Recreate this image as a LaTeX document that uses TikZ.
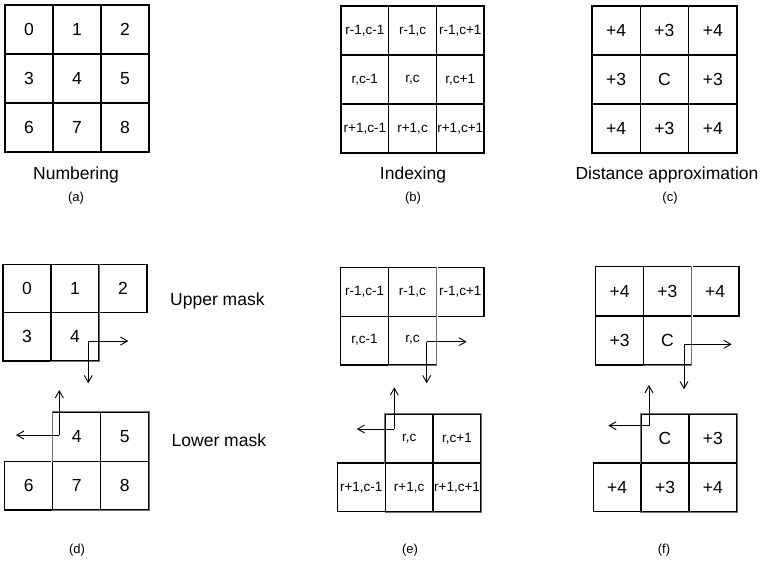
\documentclass[tikz,border=0pt]{standalone}
\usepackage{fontspec}
\setmainfont{Liberation Sans}
\usetikzlibrary{arrows.meta}
\begin{document}
\begin{tikzpicture}[x=1pt,y=-1pt,
  cell/.style={draw=black,line width=1.3pt,rectangle,inner sep=0pt,font=\fontsize{17.5}{17.5}\selectfont},
  small/.style={font=\fontsize{13.5}{13.5}\selectfont},
  lbl/.style={inner sep=0pt,font=\fontsize{17.5}{18}\selectfont},
  sub/.style={inner sep=0pt,font=\fontsize{13}{13}\selectfont},
  gr/.style={draw=black!55,line width=1pt,preaction={draw=white,line width=1.6pt}},
  arr/.style={draw=black,line width=0.9pt,-{Straight Barb[length=7pt,width=8pt]}}]
\useasboundingbox (0,0) rectangle (762,563);

% (a)
\begin{scope}[every node/.append style={minimum width=48pt,minimum height=49pt}]
\node[cell] (a0) at (29,29.5) {0};
\node[cell] (a1) at (77,29.5) {1};
\node[cell] (a2) at (125,29.5) {2};
\node[cell] (a3) at (29,78.5) {3};
\node[cell] (a4) at (77,78.5) {4};
\node[cell] (a5) at (125,78.5) {5};
\node[cell] (a6) at (29,127.5) {6};
\node[cell] (a7) at (77,127.5) {7};
\node[cell] (a8) at (125,127.5) {8};
\end{scope}
\node[lbl] (la) at (76,175) {Numbering};
\node[sub] (sa) at (76,198) {(a)};

% (b)
\begin{scope}[every node/.append style={minimum width=47.7pt,minimum height=49pt}]
\node[cell,small] (b0) at (364.85,30.5) {r-1,c-1};
\node[cell,small] (b1) at (412.55,30.5) {r-1,c};
\node[cell,small] (b2) at (460.25,30.5) {r-1,c+1};
\node[cell,small] (b3) at (364.85,79.5) {r,c-1};
\node[cell,small] (b4) at (412.55,79.5) {r,c};
\node[cell,small] (b5) at (460.25,79.5) {r,c+1};
\node[cell,small] (b6) at (364.85,128.5) {r+1,c-1};
\node[cell,small] (b7) at (412.55,128.5) {\raisebox{-3pt}{r+1,c}};
\node[cell,small] (b8) at (460.25,128.5) {r+1,c+1};
\end{scope}
\node[lbl] (lb) at (413,175) {Indexing};
\node[sub] (sb) at (413,198) {(b)};

% (c)
\begin{scope}[every node/.append style={minimum width=48.3pt,minimum height=49pt}]
\node[cell] (c0) at (616.15,30.5) {+4};
\node[cell] (c1) at (664.45,30.5) {+3};
\node[cell] (c2) at (712.75,30.5) {+4};
\node[cell] (c3) at (616.15,79.5) {+3};
\node[cell] (c4) at (664.45,79.5) {C};
\node[cell] (c5) at (712.75,79.5) {+3};
\node[cell] (c6) at (616.15,128.5) {+4};
\node[cell] (c7) at (664.45,128.5) {+3};
\node[cell] (c8) at (712.75,128.5) {+4};
\end{scope}
\node[lbl] (lc) at (667,175) {Distance approximation};
\node[sub] (sc) at (670,198) {(c)};

% (d) upper
\begin{scope}[every node/.append style={minimum width=48pt,minimum height=48.3pt}]
\node[cell] (du0) at (27,288.65) {0};
\node[cell] (du1) at (75,288.65) {1};
\node[cell] (du2) at (123,288.65) {2};
\node[cell] (du3) at (27,336.95) {3};
\node[cell] (du4) at (75,336.95) {4};
\end{scope}
\draw[gr] (du1.north east) -- (du4.south east) -- (du4.south west);
% (d) lower
\begin{scope}[every node/.append style={minimum width=48pt,minimum height=48.85pt}]
\node[cell] (dl4) at (76.7,436.725) {4};
\node[cell] (dl5) at (124.7,436.725) {5};
\node[cell] (dl6) at (28.7,485.575) {6};
\node[cell] (dl7) at (76.7,485.575) {7};
\node[cell] (dl8) at (124.7,485.575) {8};
\end{scope}
\draw[gr] (dl4.south west) -- (dl4.north west) -- (dl5.north east) -- (dl8.south east) -- (dl7.south west);
\coordinate (dUc) at (88.3,341);
\coordinate (dUr) at (128.3,341);
\coordinate (dUd) at (88.3,383.3);
\draw[arr] (dUc) -- (dUr);
\draw[arr] (dUc) -- (dUd);
\coordinate (dLc) at (59.3,435);
\coordinate (dLu) at (59.3,390);
\coordinate (dLl) at (16,435);
\draw[arr] (dLc) -- (dLu);
\draw[arr] (dLc) -- (dLl);
\node[lbl,anchor=west] (um) at (170,301) {Upper mask};
\node[lbl,anchor=west] (lm) at (171.5,440) {Lower mask};
\node[sub] (sd) at (77,550) {(d)};

% (e) upper
\begin{scope}[every node/.append style={minimum width=47.8pt,minimum height=48.7pt}]
\node[cell,small] (eu0) at (364.6,292.05) {\raisebox{-4pt}{r-1,c-1}};
\node[cell,small] (eu1) at (412.4,292.05) {\raisebox{-2pt}{r-1,c}};
\node[cell,small] (eu2) at (460.2,292.05) {\raisebox{-2pt}{r-1,c+1}};
\node[cell,small] (eu3) at (364.6,340.75) {\raisebox{3pt}{r,c-1}};
\node[cell,small] (eu4) at (412.4,340.75) {\raisebox{3pt}{r,c}};
\end{scope}
\draw[gr] (eu1.north east) -- (eu4.south east) -- (eu4.south west);
% (e) lower
\begin{scope}[every node/.append style={minimum width=47.9pt,minimum height=48.7pt}]
\node[cell,small] (el4) at (409.15,438.65) {r,c};
\node[cell,small] (el5) at (457.05,438.65) {r,c+1};
\node[cell,small] (el6) at (361.25,487.35) {r+1,c-1};
\node[cell,small] (el7) at (409.15,487.35) {r+1,c};
\node[cell,small] (el8) at (457.05,487.35) {r+1,c+1};
\end{scope}
\draw[gr] (el4.south west) -- (el4.north west) -- (el5.north east) -- (el8.south east) -- (el7.south west);
\coordinate (eUc) at (426.7,341.7);
\coordinate (eUr) at (466.7,341.7);
\coordinate (eUd) at (426.7,383.3);
\draw[arr] (eUc) -- (eUr);
\draw[arr] (eUc) -- (eUd);
\coordinate (eLc) at (394.3,429);
\coordinate (eLu) at (394.3,387.3);
\coordinate (eLl) at (356.7,429);
\draw[arr] (eLc) -- (eLu);
\draw[arr] (eLc) -- (eLl);
\node[sub] (se) at (410,550) {(e)};

% (f) upper
\begin{scope}[every node/.append style={minimum width=47.8pt,minimum height=49.2pt}]
\node[cell] (fu0) at (619.6,291.3) {+4};
\node[cell] (fu1) at (667.4,291.3) {+3};
\node[cell] (fu2) at (715.2,291.3) {+4};
\node[cell] (fu3) at (619.6,340.5) {+3};
\node[cell] (fu4) at (667.4,340.5) {C};
\end{scope}
\draw[gr] (fu1.north east) -- (fu4.south east) -- (fu4.south west);
% (f) lower
\begin{scope}[every node/.append style={minimum width=47.8pt,minimum height=48.7pt}]
\node[cell] (fl4) at (665,438.65) {C};
\node[cell] (fl5) at (712.8,438.65) {+3};
\node[cell] (fl6) at (617.2,487.35) {+4};
\node[cell] (fl7) at (665,487.35) {+3};
\node[cell] (fl8) at (712.8,487.35) {+4};
\end{scope}
\draw[gr] (fl4.south west) -- (fl4.north west) -- (fl5.north east) -- (fl8.south east) -- (fl7.south west);
\coordinate (fUc) at (684,344.3);
\coordinate (fUr) at (731.7,344.3);
\coordinate (fUd) at (684,389.3);
\draw[arr] (fUc) -- (fUr);
\draw[arr] (fUc) -- (fUd);
\coordinate (fLc) at (649,425.7);
\coordinate (fLu) at (649,385);
\coordinate (fLl) at (608.3,425.7);
\draw[arr] (fLc) -- (fLu);
\draw[arr] (fLc) -- (fLl);
\node[sub] (sf) at (664,550) {(f)};
\end{tikzpicture}
\end{document}
